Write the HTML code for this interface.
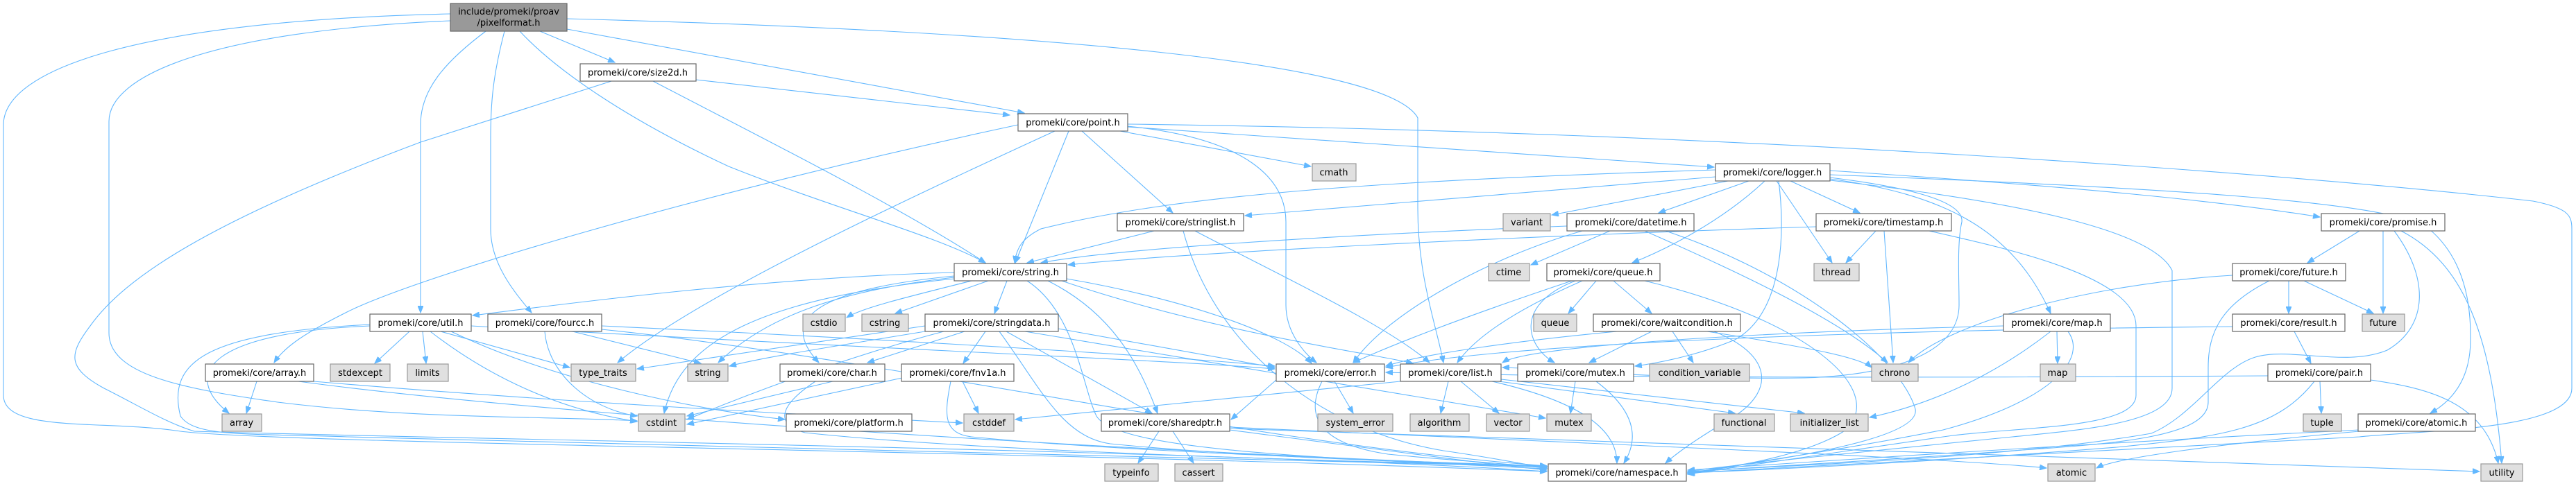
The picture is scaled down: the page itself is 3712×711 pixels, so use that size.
<!DOCTYPE html>
<html><head><meta charset="utf-8"><style>
html,body{margin:0;padding:0;background:#fff;}
svg{display:block;}
text{font-family:"DejaVu Sans","Liberation Sans",sans-serif;font-size:13px;fill:#000;text-anchor:middle;}
.e{fill:none;stroke:#63b8ff;stroke-width:1.1;marker-end:url(#a);}
.n{fill:#fff;stroke:#666;stroke-width:1.2;}
.g{fill:#e0e0e0;stroke:#999;stroke-width:1.2;}
</style></head><body>
<svg width="3712" height="711" viewBox="0 0 3712 711" xmlns="http://www.w3.org/2000/svg">
<defs><marker id="a" markerWidth="11" markerHeight="8" refX="10" refY="4" orient="auto" markerUnits="userSpaceOnUse"><path d="M0,0 L10,4 L0,8 z" fill="#63b8ff" stroke="#63b8ff"/></marker></defs>
<g>
<!-- pixelformat -->
<path class="e" d="M649,20 C200,30 5,100 5,180 L5,570 C5,625 150,605 260,622 C400,640 1500,650 2229,680"/>
<path class="e" d="M649,30 C300,45 157,110 157,175 L157,480 C157,540 260,560 400,580 C600,605 800,600 918,607"/>
<path class="e" d="M700,45 C640,90 606,130 606,180 L606,451"/>
<path class="e" d="M727,45 C710,110 707,150 707,200 L707,330 C707,380 740,420 766,451"/>
<path class="e" d="M778,45 L886,90"/>
<path class="e" d="M817,42 L1476,163"/>
<path class="e" d="M749,45 C800,100 900,170 1050,240 C1200,300 1350,340 1420,379"/>
<path class="e" d="M817,27 C1500,45 2000,90 2043,170 L2043,300 C2043,400 2070,470 2080,523"/>
<!-- size2d -->
<path class="e" d="M1003,115 L1455,166"/>
<path class="e" d="M941,117 C1100,200 1300,300 1420,379"/>
<path class="e" d="M881,117 L606,205 C300,320 180,400 130,470 C100,510 95,530 150,560 C200,585 240,610 280,622 C500,630 1800,650 2229,680"/>
<!-- point -->
<path class="e" d="M1467,180 C1000,280 600,400 500,450 C440,480 410,500 395,523"/>
<path class="e" d="M1520,189 C1300,290 1000,430 890,523"/>
<path class="e" d="M1540,189 L1463,379"/>
<path class="e" d="M1559,189 L1690,307"/>
<path class="e" d="M1625,182 C1800,200 1853,260 1853,320 L1853,440 C1853,480 1880,510 1897,523"/>
<path class="e" d="M1614,189 L1889,240"/>
<path class="e" d="M1625,183 L2470,241"/>
<path class="e" d="M1625,179 C2500,190 3300,250 3650,290 C3700,300 3706,310 3706,330 L3706,560 C3706,620 3500,620 3400,630 C3000,650 2700,665 2432,682"/>
<!-- logger -->
<path class="e" d="M2472,245 C2000,260 1700,280 1500,330 C1470,345 1465,360 1462,379"/>
<path class="e" d="M2472,255 L1794,311"/>
<path class="e" d="M2490,261 L2236,310"/>
<path class="e" d="M2520,261 L2390,307"/>
<path class="e" d="M2580,261 L2680,307"/>
<path class="e" d="M2543,261 C2480,320 2400,360 2352,379"/>
<path class="e" d="M2560,261 L2640,379"/>
<path class="e" d="M2563,261 C2572,330 2572,450 2500,490 C2440,515 2380,525 2356,528"/>
<path class="e" d="M2637,256 C2750,270 2830,290 2827,320 C2820,350 2823,400 2823,440 C2823,500 2750,540 2600,545 C2400,548 2200,530 2165,530"/>
<path class="e" d="M2637,258 C2800,280 2900,330 2955,452"/>
<path class="e" d="M2637,246 C3000,270 3200,290 3343,313"/>
<path class="e" d="M2637,252 C3100,270 3450,290 3500,330 C3560,380 3560,460 3560,490 C3560,550 3530,580 3502,596"/>
<path class="e" d="M2637,260 C2900,290 3100,330 3130,390 L3130,560 C3130,610 3000,620 2900,630 C2700,650 2500,670 2432,680"/>
<!-- datetime -->
<path class="e" d="M2258,326 C1900,340 1600,360 1500,379"/>
<path class="e" d="M2320,333 L2206,382"/>
<path class="e" d="M2280,333 C2150,370 2000,450 1950,523"/>
<path class="e" d="M2370,333 C2500,390 2650,460 2720,523"/>
<path class="e" d="M2400,333 C2600,400 2740,520 2760,590 C2770,640 2500,670 2432,683"/>
<!-- timestamp -->
<path class="e" d="M2703,333 L2660,379"/>
<path class="e" d="M2715,333 L2728,523"/>
<path class="e" d="M2780,333 C2900,360 3078,400 3078,470 L3078,570 C3078,620 2900,615 2800,630 C2600,660 2500,675 2432,684"/>
<path class="e" d="M2617,327 C2200,340 1700,365 1539,382"/>
<!-- queue.h -->
<path class="e" d="M2300,405 L2260,452"/>
<path class="e" d="M2325,405 L2380,452"/>
<path class="e" d="M2280,405 C2200,440 2130,480 2100,523"/>
<path class="e" d="M2270,405 C2180,440 2200,500 2240,523"/>
<path class="e" d="M2265,405 C2100,460 2000,500 1950,523"/>
<path class="e" d="M2370,405 C2600,460 2720,560 2660,620 C2600,660 2480,675 2432,684"/>
<!-- waitcondition -->
<path class="e" d="M2380,478 L2290,523"/>
<path class="e" d="M2410,478 L2440,523"/>
<path class="e" d="M2330,478 C2200,490 2050,510 1997,528"/>
<path class="e" d="M2460,478 C2600,500 2680,515 2697,530"/>
<path class="e" d="M2470,478 C2550,510 2560,560 2500,600 C2450,630 2420,650 2400,668"/>
<!-- mutex.h -->
<path class="e" d="M2270,550 L2263,596"/>
<path class="e" d="M2300,550 C2340,580 2370,620 2340,668"/>
<!-- list -->
<path class="e" d="M2087,550 L2076,596"/>
<path class="e" d="M2105,550 L2160,596"/>
<path class="e" d="M2160,550 L2500,596"/>
<path class="e" d="M2163,547 L2600,596"/>
<path class="e" d="M2150,550 C2280,580 2330,620 2330,668"/>
<path class="e" d="M2018,550 C1800,570 1600,590 1463,605"/>
<!-- map -->
<path class="e" d="M2964,478 L2965,524"/>
<path class="e" d="M2887,470 C2500,480 2200,500 2165,523"/>
<path class="e" d="M2955,478 C2850,560 2750,590 2694,602"/>
<path class="e" d="M2980,478 C3010,520 2950,580 2800,620 C2650,650 2500,670 2432,683"/>
<!-- promise -->
<path class="e" d="M3400,333 L3325,379"/>
<path class="e" d="M3434,333 L3434,452"/>
<path class="e" d="M3460,333 C3550,380 3590,480 3605,668"/>
<path class="e" d="M3450,333 C3500,400 3500,470 3440,505 C3380,530 3300,500 3250,515 C3200,530 3160,600 3100,625 C2900,660 2600,670 2432,680"/>
<!-- future.h -->
<path class="e" d="M3298,405 L3298,452"/>
<path class="e" d="M3320,405 L3420,452"/>
<path class="e" d="M3217,397 C3000,410 2800,470 2750,523"/>
<path class="e" d="M3270,405 C3200,440 3182,480 3182,530 L3182,580 C3182,630 3050,640 2900,650 C2700,665 2500,675 2432,681"/>
<!-- result -->
<path class="e" d="M3306,478 L3330,524"/>
<path class="e" d="M3217,471 C2800,475 2200,490 1997,530"/>
<!-- pair -->
<path class="e" d="M3343,550 L3345,596"/>
<path class="e" d="M3416,548 C3500,560 3580,580 3600,668"/>
<path class="e" d="M3335,550 C3280,620 3200,630 3050,645 C2800,665 2600,675 2432,682"/>
<path class="e" d="M3268,542 C2800,545 2300,545 1997,537"/>
<!-- atomic.h -->
<path class="e" d="M3400,622 C3200,640 3050,660 3021,675"/>
<path class="e" d="M3400,620 C3000,640 2700,660 2432,678"/>
<!-- stringlist -->
<path class="e" d="M1663,333 L1480,379"/>
<path class="e" d="M1722,333 C1850,400 2000,470 2060,523"/>
<path class="e" d="M1705,333 C1750,500 1900,620 2080,650 C2150,660 2200,670 2229,675"/>
<!-- string.h -->
<path class="e" d="M1375,393 C1100,400 800,440 681,455"/>
<path class="e" d="M1451,405 L1433,452"/>
<path class="e" d="M1400,405 C1300,430 1240,445 1220,458"/>
<path class="e" d="M1424,405 L1290,452"/>
<path class="e" d="M1375,400 C1200,420 1100,460 1035,523"/>
<path class="e" d="M1375,402 C1100,430 980,490 957,596"/>
<path class="e" d="M1375,398 C1150,420 1130,470 1180,523"/>
<path class="e" d="M1510,405 C1600,450 1640,520 1668,596"/>
<path class="e" d="M1537,402 C1700,430 1850,480 1890,524"/>
<path class="e" d="M1530,405 C1750,480 1980,510 2036,524"/>
<path class="e" d="M1480,405 C1550,450 1560,560 1580,600 C1610,650 1900,660 2229,676"/>
<!-- stringdata -->
<path class="e" d="M1420,478 L1388,524"/>
<path class="e" d="M1390,478 L1250,523"/>
<path class="e" d="M1345,476 C1200,500 1100,515 1051,528"/>
<path class="e" d="M1333,470 L918,532"/>
<path class="e" d="M1450,478 L1660,596"/>
<path class="e" d="M1525,474 L1837,530"/>
<path class="e" d="M1360,478 C1200,520 1050,580 990,605"/>
<path class="e" d="M1440,478 C1500,560 1530,630 1600,640 C1800,660 2100,668 2229,674"/>
<path class="e" d="M1477,478 L2227,603"/>
<!-- fnv1a -->
<path class="e" d="M1387,550 L1410,596"/>
<path class="e" d="M1300,545 L990,612"/>
<path class="e" d="M1370,550 C1360,600 1360,625 1400,630 C1600,650 2000,665 2229,672"/>
<!-- char -->
<path class="e" d="M1200,550 L990,600"/>
<path class="e" d="M1175,550 C1130,580 1110,610 1160,624 C1400,650 1900,665 2229,672"/>
<!-- util -->
<path class="e" d="M590,478 L540,524"/>
<path class="e" d="M609,478 L614,524"/>
<path class="e" d="M533,470 C300,480 260,540 330,596"/>
<path class="e" d="M635,478 L821,530"/>
<path class="e" d="M620,478 C700,540 800,590 918,608"/>
<path class="e" d="M650,478 C800,550 1000,590 1131,605"/>
<path class="e" d="M533,468 C300,480 240,520 260,600 C280,630 350,625 500,630 C1000,645 1800,660 2229,673"/>
<path class="e" d="M679,470 C1200,500 1700,520 1837,532"/>
<!-- array.h -->
<path class="e" d="M370,550 L355,596"/>
<path class="e" d="M430,550 C800,600 1600,650 2229,673"/>
<path class="e" d="M452,550 C800,580 1200,600 1387,610"/>
<!-- fourcc -->
<path class="e" d="M785,478 C790,540 850,590 918,600"/>
<path class="e" d="M825,478 L1010,524"/>
<path class="e" d="M867,470 C1300,490 1700,515 1837,528"/>
<path class="e" d="M867,475 C1300,520 1800,640 2229,672"/>
<!-- error -->
<path class="e" d="M1923,550 L1950,596"/>
<path class="e" d="M1905,550 C1880,600 1900,640 2000,655 C2100,665 2200,670 2229,676"/>
<path class="e" d="M1839,548 L1774,605"/>
<!-- sharedptr -->
<path class="e" d="M1670,622 L1640,668"/>
<path class="e" d="M1690,622 L1720,668"/>
<path class="e" d="M1772,616 C2300,640 2800,660 2949,675"/>
<path class="e" d="M1772,618 C2600,650 3300,670 3573,680"/>
<path class="e" d="M1772,620 C2000,650 2150,670 2229,678"/>
</g>
<g>
<rect x="649" y="5" width="168" height="40" fill="#999" stroke="#666" stroke-width="1.2"/>
<text x="733" y="21">include/promeki/proav</text><text x="733" y="37">/pixelformat.h</text>
<rect class="n" x="836" y="92" width="167" height="25"/><text x="919" y="109">promeki/core/size2d.h</text>
<rect class="n" x="1467" y="164" width="158" height="25"/><text x="1546" y="181">promeki/core/point.h</text>
<rect class="g" x="1891" y="236" width="63" height="25"/><text x="1922" y="253">cmath</text>
<rect class="n" x="2472" y="236" width="165" height="25"/><text x="2554" y="253">promeki/core/logger.h</text>
<rect class="n" x="1610" y="308" width="182" height="25"/><text x="1701" y="325">promeki/core/stringlist.h</text>
<rect class="g" x="2166" y="308" width="68" height="25"/><text x="2200" y="325">variant</text>
<rect class="n" x="2258" y="308" width="183" height="25"/><text x="2350" y="325">promeki/core/datetime.h</text>
<rect class="n" x="2617" y="308" width="195" height="25"/><text x="2714" y="325">promeki/core/timestamp.h</text>
<rect class="n" x="3345" y="308" width="178" height="25"/><text x="3434" y="325">promeki/core/promise.h</text>
<rect class="n" x="1375" y="380" width="162" height="25"/><text x="1456" y="397">promeki/core/string.h</text>
<rect class="g" x="2145" y="380" width="59" height="25"/><text x="2174" y="397">ctime</text>
<rect class="n" x="2229" y="380" width="163" height="25"/><text x="2310" y="397">promeki/core/queue.h</text>
<rect class="g" x="2614" y="380" width="65" height="25"/><text x="2646" y="397">thread</text>
<rect class="n" x="3217" y="380" width="163" height="25"/><text x="3298" y="397">promeki/core/future.h</text>
<rect class="n" x="533" y="453" width="146" height="25"/><text x="606" y="470">promeki/core/util.h</text>
<rect class="n" x="703" y="453" width="164" height="25"/><text x="785" y="470">promeki/core/fourcc.h</text>
<rect class="g" x="1157" y="453" width="61" height="25"/><text x="1187" y="470">cstdio</text>
<rect class="g" x="1242" y="453" width="67" height="25"/><text x="1275" y="470">cstring</text>
<rect class="n" x="1333" y="453" width="192" height="25"/><text x="1429" y="470">promeki/core/stringdata.h</text>
<rect class="g" x="2210" y="453" width="62" height="25"/><text x="2241" y="470">queue</text>
<rect class="n" x="2296" y="453" width="212" height="25"/><text x="2402" y="470">promeki/core/waitcondition.h</text>
<rect class="n" x="2887" y="453" width="154" height="25"/><text x="2964" y="470">promeki/core/map.h</text>
<rect class="n" x="3217" y="453" width="162" height="25"/><text x="3298" y="470">promeki/core/result.h</text>
<rect class="g" x="3404" y="453" width="61" height="25"/><text x="3434" y="470">future</text>
<rect class="n" x="296" y="525" width="156" height="25"/><text x="374" y="542">promeki/core/array.h</text>
<rect class="g" x="476" y="525" width="86" height="25"/><text x="519" y="542">stdexcept</text>
<rect class="g" x="587" y="525" width="59" height="25"/><text x="616" y="542">limits</text>
<rect class="g" x="823" y="525" width="93" height="25"/><text x="869" y="542">type_traits</text>
<rect class="g" x="991" y="525" width="58" height="25"/><text x="1020" y="542">string</text>
<rect class="n" x="1124" y="525" width="151" height="25"/><text x="1199" y="542">promeki/core/char.h</text>
<rect class="n" x="1299" y="525" width="162" height="25"/><text x="1380" y="542">promeki/core/fnv1a.h</text>
<rect class="n" x="1839" y="525" width="156" height="25"/><text x="1917" y="542">promeki/core/error.h</text>
<rect class="n" x="2018" y="525" width="145" height="25"/><text x="2090" y="542">promeki/core/list.h</text>
<rect class="n" x="2187" y="525" width="167" height="25"/><text x="2270" y="542">promeki/core/mutex.h</text>
<rect class="g" x="2377" y="525" width="144" height="25"/><text x="2449" y="542">condition_variable</text>
<rect class="g" x="2697" y="525" width="67" height="25"/><text x="2730" y="542">chrono</text>
<rect class="g" x="2940" y="525" width="51" height="25"/><text x="2965" y="542">map</text>
<rect class="n" x="3268" y="525" width="148" height="25"/><text x="3342" y="542">promeki/core/pair.h</text>
<rect class="g" x="320" y="597" width="57" height="25"/><text x="348" y="614">array</text>
<rect class="g" x="920" y="597" width="67" height="25"/><text x="953" y="614">cstdint</text>
<rect class="n" x="1133" y="597" width="181" height="25"/><text x="1223" y="614">promeki/core/platform.h</text>
<rect class="g" x="1389" y="597" width="72" height="25"/><text x="1425" y="614">cstddef</text>
<rect class="n" x="1587" y="597" width="185" height="25"/><text x="1679" y="614">promeki/core/sharedptr.h</text>
<rect class="g" x="1899" y="597" width="108" height="25"/><text x="1953" y="614">system_error</text>
<rect class="g" x="2032" y="597" width="85" height="25"/><text x="2074" y="614">algorithm</text>
<rect class="g" x="2142" y="597" width="62" height="25"/><text x="2173" y="614">vector</text>
<rect class="g" x="2229" y="597" width="64" height="25"/><text x="2261" y="614">mutex</text>
<rect class="g" x="2470" y="597" width="87" height="25"/><text x="2513" y="614">functional</text>
<rect class="g" x="2580" y="597" width="112" height="25"/><text x="2636" y="614">initializer_list</text>
<rect class="g" x="3319" y="597" width="55" height="25"/><text x="3346" y="614">tuple</text>
<rect class="n" x="3398" y="597" width="169" height="25"/><text x="3482" y="614">promeki/core/atomic.h</text>
<rect class="g" x="1592" y="669" width="77" height="25"/><text x="1630" y="686">typeinfo</text>
<rect class="g" x="1693" y="669" width="69" height="25"/><text x="1727" y="686">cassert</text>
<rect class="n" x="2231" y="669" width="199" height="25"/><text x="2330" y="686">promeki/core/namespace.h</text>
<rect class="g" x="2951" y="669" width="68" height="25"/><text x="2985" y="686">atomic</text>
<rect class="g" x="3575" y="669" width="60" height="25"/><text x="3605" y="686">utility</text>
</g>
</svg>
</body></html>
